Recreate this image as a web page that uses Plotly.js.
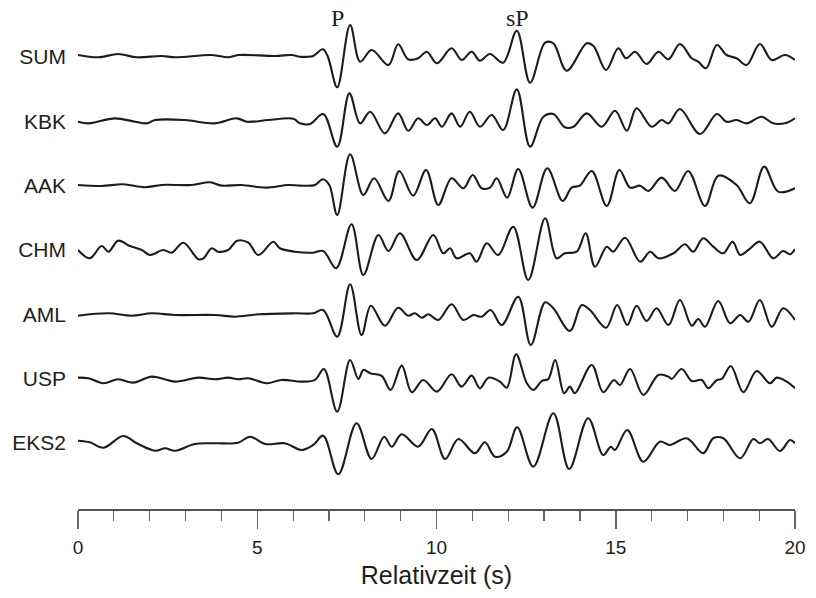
<!DOCTYPE html>
<html>
<head>
<meta charset="utf-8">
<script src="https://cdn.plot.ly/plotly-3.0.1.min.js"></script>
<style>
  html, body { margin: 0; padding: 0; background: #ffffff; }
  #chart { width: 816px; height: 598px; }
</style>
</head>
<body>
<div id="chart"></div>
<script>
// Station names (top to bottom)
const stations = ["SUM", "KBK", "AAK", "CHM", "AML", "USP", "EKS2"];

// Relative time (s) and amplitude (arbitrary units) of each trace
const tSUM = [0.0,0.57,1.12,1.64,2.33,2.71,3.73,4.19,4.47,5.50,5.96,6.19,6.42,6.56,6.83,6.97,7.23,7.59,7.87,8.19,8.66,8.93,9.21,9.49,9.73,10.01,10.42,10.70,10.98,11.21,11.49,11.86,12.24,12.61,13.03,13.26,13.63,14.19,14.38,14.73,15.07,15.29,15.54,15.86,16.19,16.47,16.79,17.12,17.30,17.52,17.82,18.09,18.37,18.65,19.02,19.35,19.72,20.0];
const aSUM = [2,-0.3,3,-0.3,1,-0.3,2,-0.3,2,1,2,0.3,0.3,1,7.7,0.3,-30.3,32,-4.7,7,-8,12.7,-2.3,-1.3,5.3,-6.3,8.7,-3,5.3,-3.7,3,-5.7,26.3,-25.7,14.3,13.7,-13.7,13.7,11,-13,8.7,-1.3,5.3,-7,5.3,-2.3,13,-1.3,-4.7,-11.3,12,2,-1.3,-8,13,-3,2,-3];

const tKBK = [0.0,0.29,1.03,1.59,1.92,2.15,2.98,3.82,4.43,4.71,5.31,6.01,6.19,6.47,6.84,7.23,7.57,7.87,8.15,8.56,8.93,9.21,9.49,9.73,9.96,10.15,10.42,10.66,10.93,11.21,11.54,11.86,12.24,12.61,12.98,13.26,13.58,13.82,14.19,14.61,14.98,15.31,15.58,16.00,16.28,16.47,16.79,17.35,17.82,18.09,18.37,18.65,19.07,19.39,19.77,20.0];
const aKBK = [-0.4,-2,3,-0.4,-2,1.3,1.3,-2,3,-0.4,1.3,2.6,-2,-2.7,7.3,-25.4,28,-2,9.6,-12,8,-9.4,3,-3.7,3,-5.4,8,-5.4,9.6,-5.4,6.3,-8.7,32,-25.4,4.6,7.3,-6,-5.4,8,-5.4,10.6,-9.4,13,-5.4,1.3,-2,12.3,-12.7,7.3,-0.4,1.3,-2,4.6,-2,-1.4,3];

const tAAK = [0.0,0.66,1.26,1.87,2.33,3.17,3.68,4.01,4.57,5.22,5.87,6.19,6.61,6.83,7.01,7.23,7.59,7.96,8.26,8.66,8.96,9.35,9.71,10.05,10.42,10.75,11.01,11.26,11.49,11.68,11.97,12.28,12.68,13.09,13.52,13.77,14.00,14.33,14.75,15.10,15.40,15.68,15.91,16.28,16.65,17.02,17.49,17.86,18.37,18.74,19.14,19.53,20.0];
const aAAK = [0.7,-0.3,1.4,-1.6,0.7,0.7,3.4,0,0.7,-2,0.7,0,0.7,6.4,0.7,-29.3,31.4,-9.3,7.4,-15.3,14.7,-10,15.7,-19.3,7.4,-2.6,10.7,-2.6,-2,7.4,-12,16.7,-22,17.4,-15.3,-2,0,14.7,-20.3,15.7,-2,0,-5.3,8,-5.3,14.7,-20.3,10,0.7,-17.6,19,-6,-2.6];

const tCHM = [0.0,0.33,0.66,0.85,1.12,1.45,1.78,2.01,2.38,2.61,2.94,3.36,3.50,3.73,3.91,4.19,4.44,4.75,5.03,5.45,5.63,6.05,6.56,6.84,7.20,7.63,7.96,8.38,8.66,8.98,9.45,9.91,10.19,10.38,10.56,10.93,11.12,11.40,11.72,12.14,12.56,13.03,13.35,13.58,13.91,14.16,14.42,14.75,14.93,15.26,15.68,15.96,16.19,16.61,16.93,17.16,17.44,17.72,18.00,18.26,18.47,18.70,19.02,19.39,19.67,19.86,20.0];
const aCHM = [0,-8.3,4,-1.7,9.3,4,0,-5,0,-2.7,7.3,-9.3,-8.3,1.7,-1.7,0,9.3,7.3,-5,8.3,1.7,-1.7,-2.7,-1,-18.3,25.7,-25,15,-1,16.7,-10,15,-3.3,1.7,-8.3,-3.3,-11.7,6.7,-5,23.3,-30,31.7,-8.3,-3.3,-1.7,16.7,-16.7,3.3,-1.7,12.3,-11.7,-1.7,-8.3,-3.3,5.7,-1.7,11.7,3.3,-3.3,8.3,-5,0,8.3,-8.3,-1,-4.3,1];

const tAML = [0.0,0.85,1.50,2.06,2.71,3.82,4.38,5.03,6.05,6.56,6.84,7.23,7.59,7.91,8.17,8.56,8.93,9.21,9.40,9.59,9.77,10.05,10.42,10.75,11.03,11.26,11.51,11.82,12.28,12.63,13.03,13.26,13.72,14.05,14.28,14.73,15.04,15.32,15.58,15.86,16.14,16.47,16.79,17.12,17.30,17.49,17.86,18.19,18.47,18.70,19.02,19.35,19.67,20.0];
const aAML = [-1.4,1,-1.4,1,-0.7,-0.7,-2.4,0,1,1,4.3,-22.4,30,-20.7,8.6,-11.4,6.6,-1.4,1,-3.4,0,-5.7,10,-5.7,-0.7,-2.4,4.3,-10.7,17.6,-30.7,12,6,-16.7,9.3,4.3,-13.4,9.3,-10.7,8.6,-6.7,6,-10.7,14.3,-11.4,-4.7,-12.4,13.3,-9,-0.7,-7.4,14.3,-12.4,6,-5.7];

const tUSP = [0.0,0.29,0.71,1.12,1.54,2.06,2.71,3.36,3.82,4.19,4.47,4.75,5.26,5.68,6.24,6.61,6.86,7.23,7.59,7.82,7.96,8.15,8.47,8.72,9.03,9.31,9.63,10.01,10.42,10.70,10.98,11.21,11.45,11.77,11.96,12.22,12.52,12.70,12.94,13.12,13.31,13.56,13.72,13.86,14.33,14.65,14.95,15.12,15.40,15.77,16.19,16.47,16.56,16.84,17.12,17.40,17.58,17.82,17.96,18.21,18.56,18.93,19.30,19.49,19.77,20.0];
const aUSP = [1,0.4,-4.6,-0.6,-4,2,-3,1,-0.6,1,-0.6,0.4,-4.6,-1.3,-3,-1.3,9.7,-33,18.7,-0.3,8.7,5.4,2.7,-11.3,13,-13.6,-1.3,-13,4.4,-8,3,-9.6,1,-3,-9,24.4,-4.6,-11.3,-2.3,-0.3,18.7,-14.6,-8,-14.6,13.7,-13.6,-1.3,-6.3,9.7,-16.3,3.7,2,-0.3,9.7,-2.3,-1.3,-9.6,-1.3,-0.3,12.7,-13.6,7.7,-4.6,1,-3,-9.6];

const tEKS2 = [0.0,0.33,0.71,1.26,1.64,2.15,2.43,2.71,3.26,3.82,4.47,4.80,5.22,5.77,6.24,6.56,6.84,7.26,7.77,8.19,8.54,8.75,9.03,9.49,9.87,10.24,10.61,11.07,11.35,11.63,11.96,12.25,12.70,13.26,13.70,14.23,14.65,14.86,14.98,15.32,15.77,16.23,16.51,16.98,17.44,17.72,18.00,18.47,18.84,19.02,19.25,19.58,19.86,20.0];
const aEKS2 = [2.3,0.7,-4.7,7,-0.3,-7.7,-5.3,-7.7,-1,-0.3,0.3,6.3,-1,-0.3,-7,-2,7.3,-31.3,19.7,-16,6.3,-3.7,8.7,-3.7,14,-16,4,-10.3,0.7,-13.7,-8.7,15.7,-23.7,29.7,-26,24.7,-12,-3.7,-7,13,-18.7,1.3,-2,4.7,-10.3,4.7,4.7,-15.3,4,-0.3,4,-8,3,-0.3];

// Phase labels and their times
const phaseNames = ["P", "sP"];
const phaseTimes = [7.25, 12.27];

// Axis ticks
const xTickVals = [0, 5, 10, 15, 20];
const xTickText = ["0", "5", "10", "15", "20"];

const times = [tSUM, tKBK, tAAK, tCHM, tAML, tUSP, tEKS2];
const amps  = [aSUM, aKBK, aAAK, aCHM, aAML, aUSP, aEKS2];

// Layout constants (vertical stacking of traces)
const firstOffset = 57;
const spacing = 64.33;
const offsets = stations.map((s, i) => -(firstOffset + i * spacing));

const traces = stations.map((name, i) => ({
  type: "scatter",
  mode: "lines",
  name: name,
  x: times[i],
  y: amps[i].map(a => offsets[i] + a),
  line: { color: "#1c1c1c", width: 2.1, shape: "spline", smoothing: 1 },
  hoverinfo: "skip",
  showlegend: false
}));

const W = 816;
const layout = {
  width: 816,
  height: 598,
  margin: { l: 0, r: 0, t: 0, b: 89, pad: 0 },
  paper_bgcolor: "#ffffff",
  plot_bgcolor: "#ffffff",
  showlegend: false,
  font: { family: "Liberation Sans, Arial, sans-serif", color: "#1e1e1e" },
  xaxis: {
    domain: [78 / W, 795 / W],
    range: [0, 20],
    showgrid: false,
    zeroline: false,
    showline: true,
    linecolor: "#555555",
    linewidth: 1.5,
    ticks: "outside",
    ticklen: 18,
    tickwidth: 1.5,
    tickcolor: "#666666",
    tickvals: xTickVals,
    ticktext: xTickText,
    tickfont: { size: 19, color: "#1e1e1e" },
    ticklabelstandoff: 3,
    minor: { dtick: 1, ticks: "outside", ticklen: 10, tickwidth: 1.2, tickcolor: "#666666", showgrid: false },
    title: { text: "Relativzeit (s)", font: { size: 25, color: "#1e1e1e" }, standoff: 9 },
    automargin: false,
    fixedrange: true
  },
  yaxis: {
    domain: [0, 1],
    range: [-509, 0],
    showgrid: false,
    zeroline: false,
    showline: false,
    ticks: "",
    tickvals: offsets,
    ticktext: stations,
    tickfont: { size: 21, color: "#1e1e1e" },
    ticklabelstandoff: 11,
    automargin: false,
    fixedrange: true
  },
  annotations: phaseNames.map((p, i) => ({
    text: p,
    x: phaseTimes[i],
    y: -18,
    xref: "x",
    yref: "y",
    showarrow: false,
    xanchor: "center",
    yanchor: "middle",
    font: { family: "Liberation Serif, Times New Roman, serif", size: 24, color: "#1e1e1e" }
  }))
};

Plotly.newPlot("chart", traces, layout, { staticPlot: true, displayModeBar: false });
</script>
</body>
</html>
